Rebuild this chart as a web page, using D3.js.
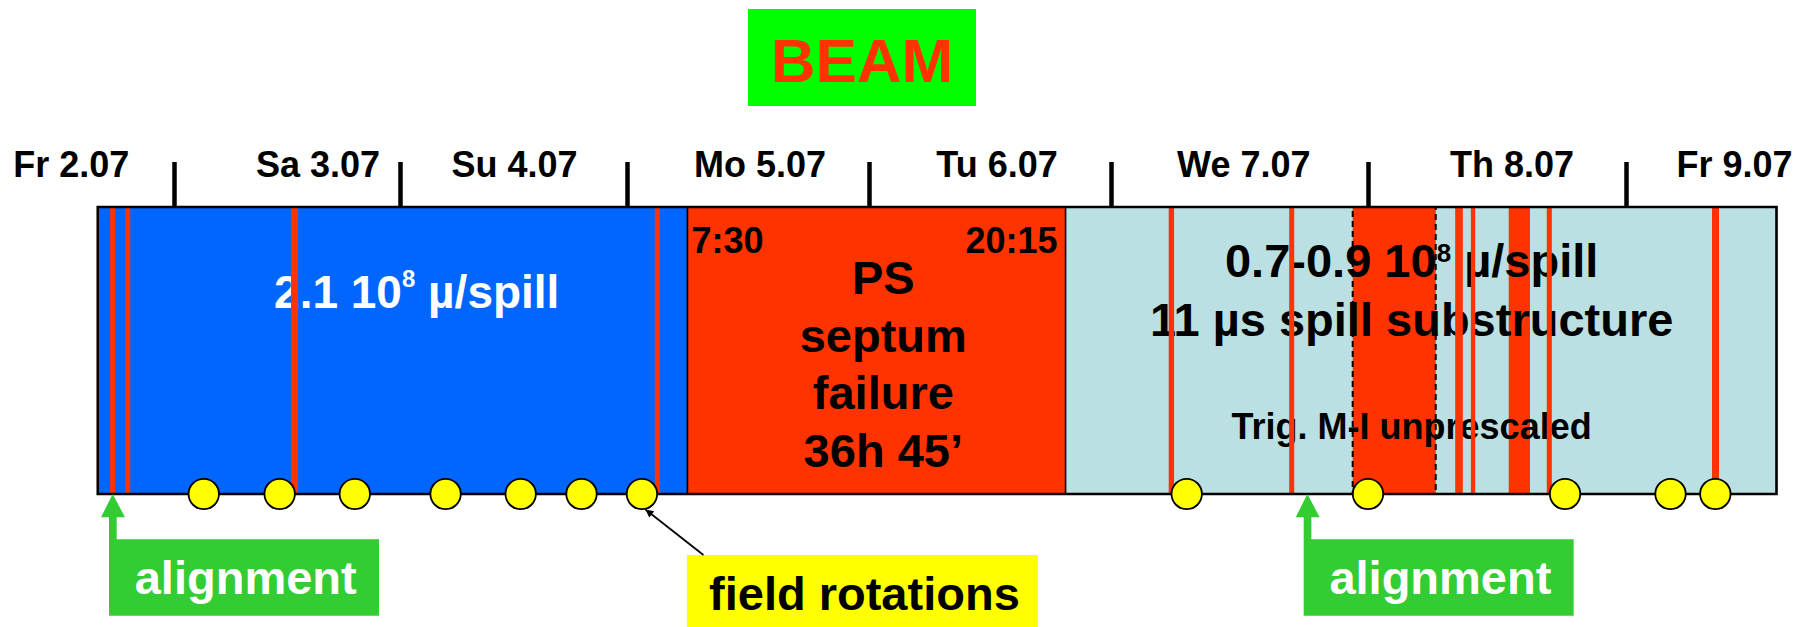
<!DOCTYPE html>
<html><head><meta charset="utf-8">
<script src="https://cdn.jsdelivr.net/npm/d3@7"></script>
<style>
html,body{margin:0;padding:0;background:#fff;}
svg{display:block;}
text{font-family:"Liberation Sans", Arial, Helvetica, sans-serif;font-weight:bold;}
</style></head><body>
<svg id="chart" width="1795" height="627"></svg>
<script>
// ---- data (times in hours since Fr 2.07 00:00) ----
const dayLabels = ["Fr 2.07","Sa 3.07","Su 4.07","Mo 5.07","Tu 6.07","We 7.07","Th 8.07","Fr 9.07"];
const dayLabelHours = [13.1, 39.3, 60.1, 85.2, 108.7, 132.4, 157.4, 178.1];
const dayTickHours = [24, 48, 72, 96, 120, 144, 168];

const periodNames = ["high", "septum", "low"];
const periodStart = [15.9, 78.0, 115.5];
const periodEnd   = [78.0, 115.5, 182.0];

const beamOffStart = [17.22, 18.82, 36.42, 74.76, 125.39, 136.64, 152.11, 153.57, 157.09, 160.63, 176.0];
const beamOffEnd   = [17.75, 19.35, 37.17, 75.25, 125.89, 137.11, 152.82, 153.97, 159.07, 161.10, 176.65];

const triggerBlockStart = [142.57];
const triggerBlockEnd   = [150.30];

const fieldRotationHours = [27.16, 35.22, 43.2, 52.82, 60.76, 67.19, 73.48, 127.07, 144.0, 162.33, 172.14, 176.31];
const alignmentHours = [17.49, 138.34];

const septumStartLabel = "7:30";
const septumEndLabel = "20:15";
const septumLines = ["PS", "septum", "failure", "36h 45\u2019"];
const septumTextHour = 97.42;
const highTextHour = 49.77;
const lowTextHour = 148.06;

// ---- layout ----
const svg = d3.select("#chart");
const boxTop = 207, boxBottom = 494;
const RED = "#FF3300", BLUE = "#0066FF", LIGHT = "#BBE0E3", YELLOW = "#FFFF00", GREEN = "#33CC33";

const x = d3.scaleLinear().domain(dayTickHours).range([174, 400, 627, 869, 1111, 1368, 1626]);
const periodColor = d3.scaleOrdinal().domain(periodNames).range([BLUE, RED, LIGHT]);

const periods = periodNames.map((n, i) => ({name: n, s: periodStart[i], e: periodEnd[i]}));
const offs = beamOffStart.map((s, i) => ({s, e: beamOffEnd[i]}));

// BEAM title
svg.append("rect").attr("x", 748).attr("y", 9).attr("width", 228).attr("height", 97).attr("fill", "#00FF00");
svg.append("text").attr("x", 862).attr("y", 82).attr("text-anchor", "middle")
  .attr("font-size", 62).attr("fill", RED).text("BEAM");

// periods
svg.append("g").selectAll("rect").data(periods).join("rect")
  .attr("x", d => x(d.s)).attr("y", boxTop)
  .attr("width", d => x(d.e) - x(d.s)).attr("height", boxBottom - boxTop)
  .attr("fill", d => periodColor(d.name)).attr("stroke", "#000").attr("stroke-width", 1.5);

// trigger block (dashed)
svg.append("g").selectAll("rect").data(triggerBlockStart.map((s, i) => ({s, e: triggerBlockEnd[i]}))).join("rect")
  .attr("x", d => x(d.s)).attr("y", boxTop)
  .attr("width", d => x(d.e) - x(d.s)).attr("height", boxBottom - boxTop)
  .attr("fill", RED).attr("stroke", "#000").attr("stroke-width", 2).attr("stroke-dasharray", "6,4");

// wide beam-off blocks (below text)
svg.append("g").selectAll("rect").data(offs.filter(d => x(d.e) - x(d.s) > 12)).join("rect")
  .attr("x", d => x(d.s)).attr("y", boxTop + 1)
  .attr("width", d => x(d.e) - x(d.s)).attr("height", boxBottom - boxTop - 2)
  .attr("fill", RED);

// texts inside
const hi = svg.append("text").attr("x", x(highTextHour)).attr("y", 308).attr("text-anchor", "middle")
  .attr("font-size", 46).attr("fill", "#fff");
hi.append("tspan").text("2.1 10");
hi.append("tspan").attr("font-size", 24).attr("dy", -21).text("8");
hi.append("tspan").attr("dy", 21).text(" \u00B5/spill");

svg.append("text").attr("x", x(periodStart[1]) + 4).attr("y", 253).attr("font-size", 36).attr("fill", "#000").text(septumStartLabel);
svg.append("text").attr("x", x(periodEnd[1]) - 8).attr("y", 253).attr("text-anchor", "end").attr("font-size", 36).attr("fill", "#000").text(septumEndLabel);
svg.append("g").selectAll("text").data(septumLines).join("text")
  .attr("x", x(septumTextHour)).attr("y", (d, i) => 294 + i * 57.5).attr("text-anchor", "middle")
  .attr("font-size", 47).attr("fill", "#000").text(d => d);

const lo = svg.append("text").attr("x", x(lowTextHour)).attr("y", 277).attr("text-anchor", "middle")
  .attr("font-size", 47).attr("fill", "#000");
lo.append("tspan").text("0.7-0.9 10");
lo.append("tspan").attr("font-size", 26).attr("dy", -15).text("8");
lo.append("tspan").attr("dy", 15).text(" \u00B5/spill");
svg.append("text").attr("x", x(lowTextHour)).attr("y", 336).attr("text-anchor", "middle")
  .attr("font-size", 47).attr("fill", "#000").text("11 \u00B5s spill substructure");
svg.append("text").attr("x", x(lowTextHour)).attr("y", 439).attr("text-anchor", "middle")
  .attr("font-size", 36).attr("fill", "#000").text("Trig. M-I unprescaled");

// thin beam-off lines (on top)
svg.append("g").selectAll("rect").data(offs.filter(d => x(d.e) - x(d.s) <= 12)).join("rect")
  .attr("x", d => x(d.s)).attr("y", boxTop + 1)
  .attr("width", d => x(d.e) - x(d.s)).attr("height", boxBottom - boxTop - 2)
  .attr("fill", RED);

// outer box
svg.append("rect").attr("x", x(periodStart[0])).attr("y", boxTop)
  .attr("width", x(periodEnd[2]) - x(periodStart[0])).attr("height", boxBottom - boxTop)
  .attr("fill", "none").attr("stroke", "#000").attr("stroke-width", 2.5);

// axis ticks
const axis = d3.axisTop(x).tickValues(dayTickHours).tickSize(45).tickFormat("");
const ag = svg.append("g").attr("transform", `translate(0,${boxTop})`).call(axis);
ag.select(".domain").remove();
ag.selectAll(".tick line").attr("stroke", "#000").attr("stroke-width", 4.5);

// day labels
svg.append("g").selectAll("text").data(dayLabels).join("text")
  .attr("x", (d, i) => x(dayLabelHours[i])).attr("y", 177).attr("text-anchor", "middle")
  .attr("font-size", 36).attr("fill", "#000").text(d => d);

// field rotations
svg.append("g").selectAll("circle").data(fieldRotationHours).join("circle")
  .attr("cx", d => x(d)).attr("cy", boxBottom).attr("r", 15.2)
  .attr("fill", YELLOW).attr("stroke", "#000").attr("stroke-width", 1.8);

// alignment callouts
const al = svg.append("g").selectAll("g").data(alignmentHours).join("g")
  .attr("transform", d => `translate(${x(d)},0)`);
al.append("path").attr("fill", GREEN)
  .attr("d", `M0,${boxBottom} L12.3,517.3 L4,517.3 L4,539.3 L266.3,539.3 L266.3,615.7 L-3.7,615.7 L-3.7,517.3 L-11.7,517.3 Z`);
al.append("text").attr("x", 133).attr("y", 594).attr("text-anchor", "middle")
  .attr("font-size", 47).attr("fill", "#fff").text("alignment");

// field rotations callout
const fr = fieldRotationHours[6];
const defs = svg.append("defs");
defs.append("marker").attr("id", "ah").attr("viewBox", "0 0 10 10").attr("refX", 10).attr("refY", 5)
  .attr("markerWidth", 10).attr("markerHeight", 8).attr("markerUnits", "userSpaceOnUse").attr("orient", "auto")
  .append("path").attr("d", "M0,0 L10,5 L0,10 Z").attr("fill", "#000");
const fx = x(fr);
svg.append("rect").attr("x", fx + 45).attr("y", 555).attr("width", 351).attr("height", 72).attr("fill", YELLOW);
svg.append("line").attr("x1", fx + 61.5).attr("y1", 555).attr("x2", fx + 3.5).attr("y2", 509.5)
  .attr("stroke", "#000").attr("stroke-width", 1.8).attr("marker-end", "url(#ah)");
svg.append("text").attr("x", fx + 222.5).attr("y", 610).attr("text-anchor", "middle")
  .attr("font-size", 47).attr("fill", "#000").text("field rotations");
</script>
</body></html>
